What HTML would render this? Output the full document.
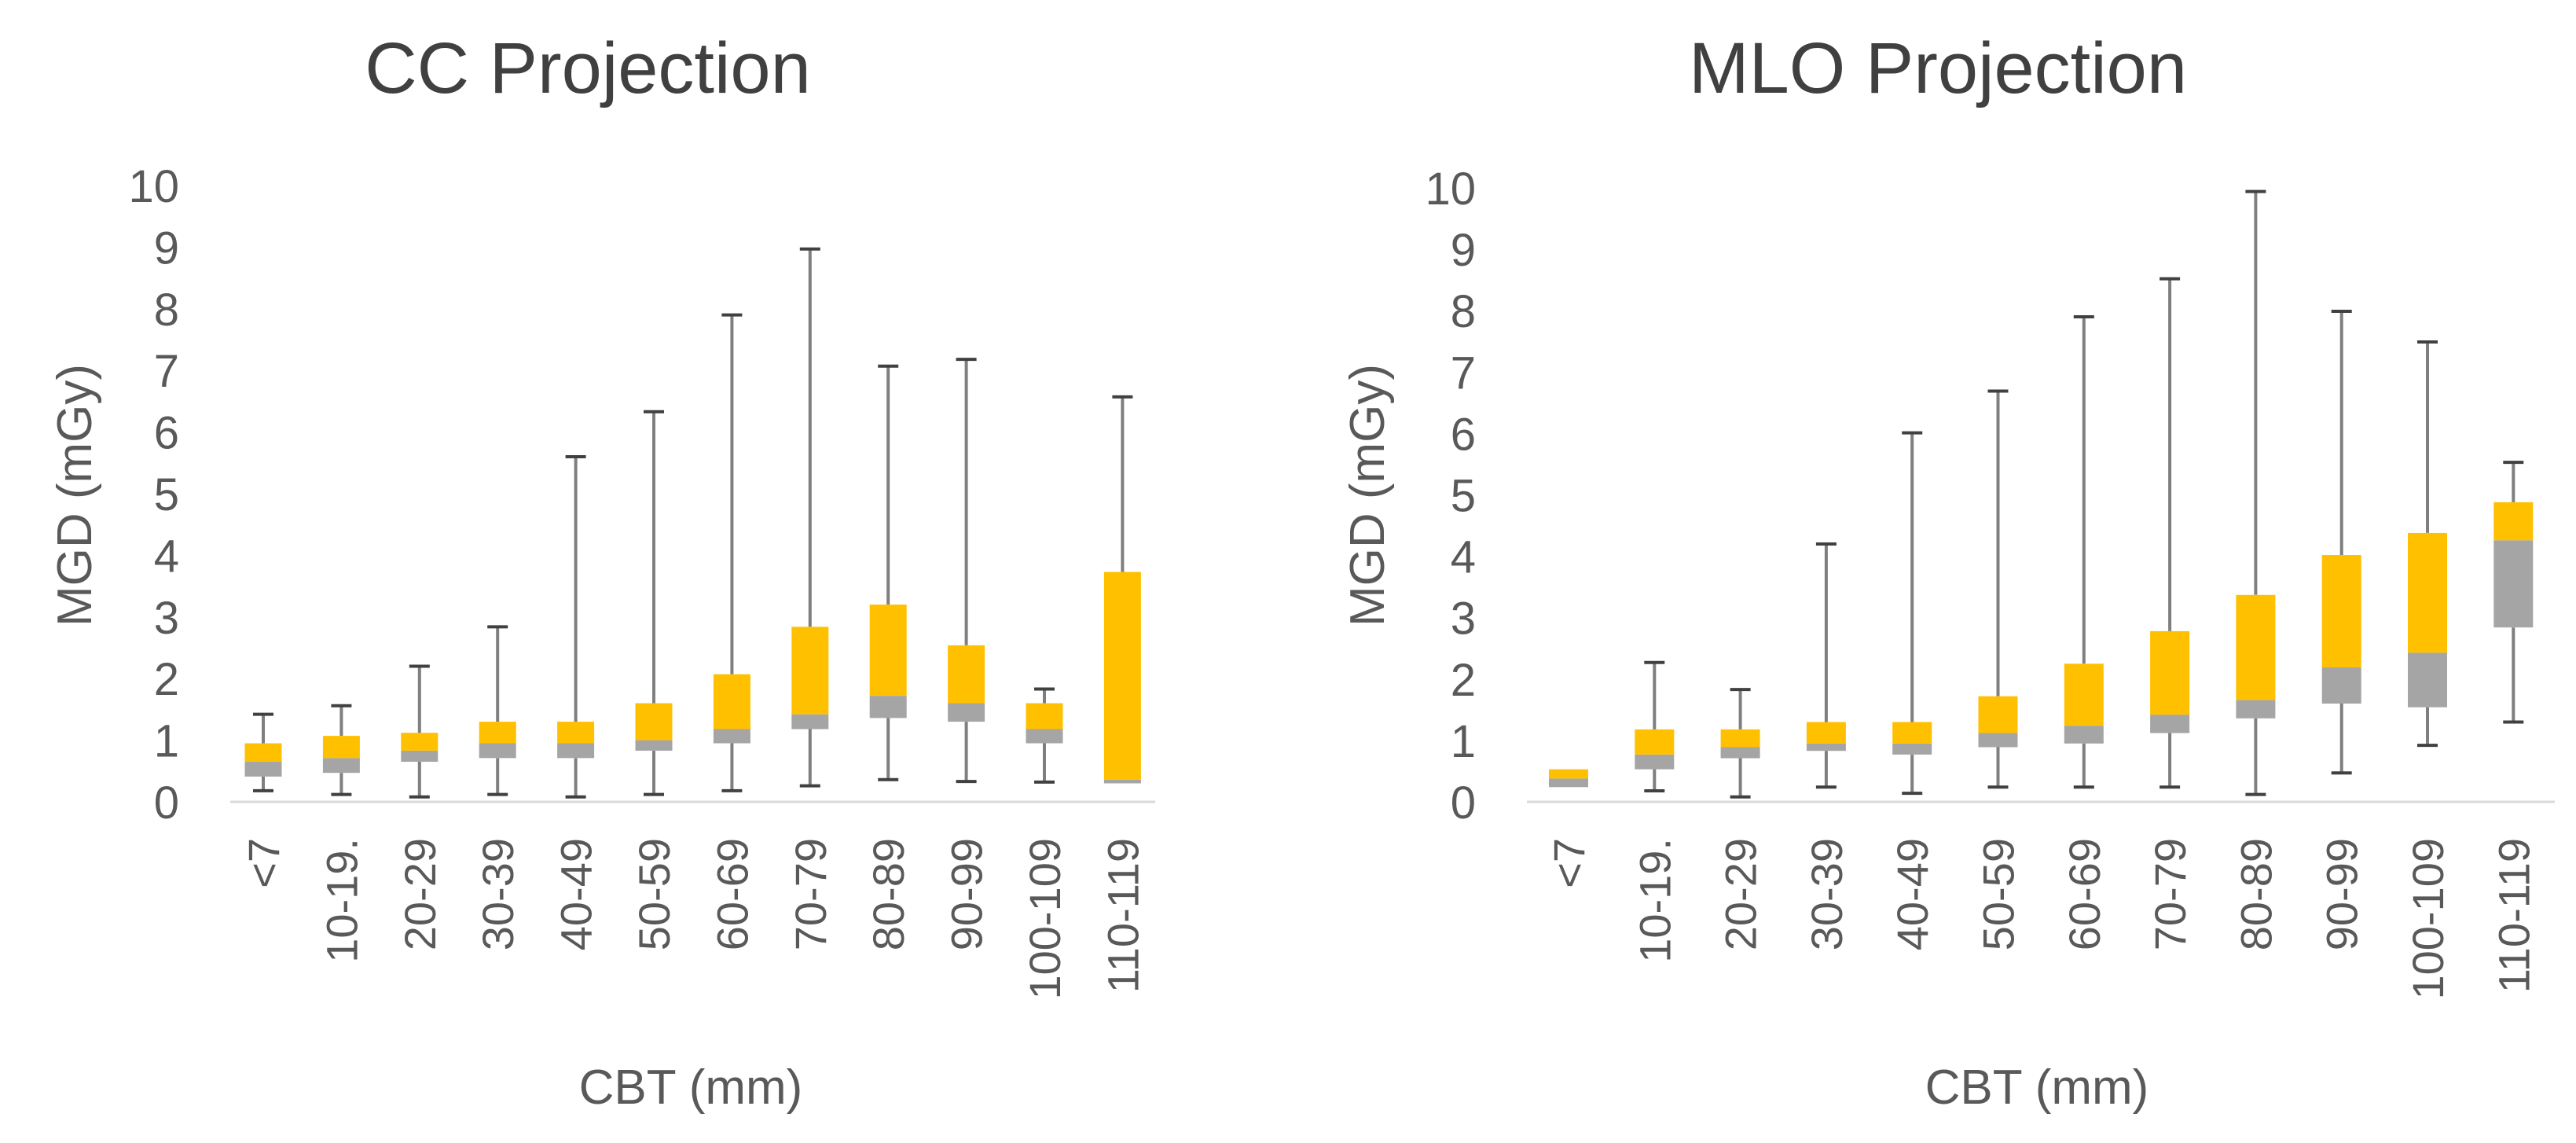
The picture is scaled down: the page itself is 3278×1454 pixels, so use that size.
<!DOCTYPE html>
<html><head><meta charset="utf-8"><style>
html,body{margin:0;padding:0;background:#fff;}
svg{display:block;font-family:"Liberation Sans",sans-serif;}
</style></head><body>
<svg id="c" width="3278" height="1454" viewBox="0 0 3278 1454"></svg>
<script>
const categories=["<7","10-19.","20-29","30-39","40-49","50-59","60-69","70-79","80-89","90-99","100-109","110-119"];
const yTicks=[0,1,2,3,4,5,6,7,8,9,10];
const ccMin=[0.18,0.12,0.08,0.12,0.08,0.12,0.18,0.26,0.36,0.33,0.32,0.3];
const ccQ1=[0.41,0.47,0.65,0.71,0.71,0.83,0.95,1.18,1.36,1.3,0.95,0.3];
const ccMed=[0.65,0.71,0.83,0.95,0.95,1.0,1.18,1.42,1.72,1.6,1.18,0.36];
const ccQ3=[0.95,1.07,1.12,1.3,1.3,1.6,2.07,2.84,3.2,2.54,1.6,3.73];
const ccMax=[1.42,1.56,2.2,2.84,5.6,6.33,7.9,8.97,7.07,7.18,1.83,6.57];
const mloMin=[0.24,0.18,0.08,0.24,0.14,0.24,0.24,0.24,0.12,0.47,0.92,1.3];
const mloQ1=[0.24,0.53,0.71,0.83,0.77,0.89,0.95,1.12,1.36,1.6,1.54,2.84];
const mloMed=[0.38,0.77,0.89,0.95,0.95,1.12,1.24,1.42,1.66,2.19,2.43,4.26];
const mloQ3=[0.53,1.18,1.18,1.3,1.3,1.72,2.25,2.78,3.37,4.02,4.38,4.88];
const mloMax=[0.53,2.27,1.83,4.2,6.01,6.69,7.9,8.52,9.94,7.99,7.49,5.53];

const NS="http://www.w3.org/2000/svg";
const svg=document.getElementById('c');
function mk(tag,attrs,parent){const e=document.createElementNS(NS,tag);for(const k in attrs)e.setAttribute(k,attrs[k]);(parent||svg).appendChild(e);return e;}

function drawPanel(cfg,mins,q1,med,q3,maxs){
  const g=mk('g',{});
  
  
  const y=v=>cfg.y0-(cfg.y0-cfg.y10)*v/10;
  const x=i=>cfg.c0+i*cfg.step;
  const t=mk('text',{x:cfg.titleX,y:118,'text-anchor':'middle','font-size':92,fill:'#404040'},g);
  t.textContent=cfg.title;
  
  
  yTicks.forEach(v=>{
    const tt=mk('text',{x:cfg.tickX,y:y(v)+21,'text-anchor':'end','font-size':58,fill:'#595959'},g);
    tt.textContent=v;
    
    
  });
  const ax=mk('line',{x1:cfg.ax0,x2:cfg.ax1,y1:cfg.y0,y2:cfg.y0,stroke:'#d9d9d9','stroke-width':3},g);
  
  
  const yt=mk('text',{x:0,y:0,'text-anchor':'middle','font-size':62,fill:'#595959',transform:`translate(${cfg.yTitleX+22},630) rotate(-90)`},g);
  yt.textContent='MGD (mGy)';
  
  
  const xt=mk('text',{x:cfg.xTitleX,y:1404,'text-anchor':'middle','font-size':62,fill:'#595959'},g);
  xt.textContent='CBT (mm)';
  
  
  const bw=cfg.bw;
  categories.forEach((c,i)=>{
    const cx=x(i);
    const lab=mk('text',{x:0,y:0,'text-anchor':'end','font-size':56,fill:'#595959',transform:`translate(${cx+20},1066) rotate(-90)`},g);
    lab.textContent=c;
    
    
    if(maxs[i]>q3[i]){
      const w=mk('line',{x1:cx,x2:cx,y1:y(maxs[i]),y2:y(q3[i]),stroke:'#7f7f7f','stroke-width':4},g);
      
      
      const cp=mk('line',{x1:cx-13,x2:cx+13,y1:y(maxs[i]),y2:y(maxs[i]),stroke:'#404040','stroke-width':4},g);
      
      
    }
    if(mins[i]<q1[i]){
      const w=mk('line',{x1:cx,x2:cx,y1:y(q1[i]),y2:y(mins[i]),stroke:'#7f7f7f','stroke-width':4},g);
      
      
      const cp=mk('line',{x1:cx-13,x2:cx+13,y1:y(mins[i]),y2:y(mins[i]),stroke:'#404040','stroke-width':4},g);
      
      
    }
    const lo=mk('rect',{x:cx-bw/2,y:y(med[i]),width:bw,height:Math.max(0,y(q1[i])-y(med[i])),fill:'#a5a5a5'},g);
    
    
    const hi=mk('rect',{x:cx-bw/2,y:y(q3[i]),width:bw,height:Math.max(0,y(med[i])-y(q3[i])),fill:'#ffc000'},g);
    
    
  });
}
drawPanel({key:'cc',title:'CC Projection',titleX:748,tickX:228,y0:1020,y10:236,c0:335,step:99.4,bw:47,ax0:293,ax1:1470,yTitleX:94,xTitleX:879},ccMin,ccQ1,ccMed,ccQ3,ccMax);
drawPanel({key:'mlo',title:'MLO Projection',titleX:2466,tickX:1878,y0:1020,y10:239,c0:1996,step:109.3,bw:50,ax0:1943,ax1:3251,yTitleX:1739,xTitleX:2592},mloMin,mloQ1,mloMed,mloQ3,mloMax);
</script>
</body></html>
